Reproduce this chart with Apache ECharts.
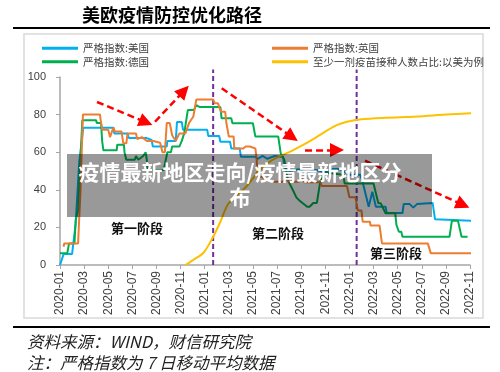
<!DOCTYPE html>
<html><head><meta charset="utf-8">
<script src="https://cdn.jsdelivr.net/npm/echarts@6/dist/echarts.min.js"></script>
<style>html,body{margin:0;padding:0;background:#fff}#c{width:500px;height:372px}</style>
</head><body><div id="c"></div>
<script>
// x value = months since 2020-01
const tickLabels = ['2020-01','2020-03','2020-05','2020-07','2020-09','2020-11','2021-01','2021-03','2021-05','2021-07','2021-09','2021-11','2022-01','2022-03','2022-05','2022-07','2022-09','2022-11'];
const yTicks = [0, 20, 40, 60, 80, 100];

const usIndex = [[0,0],[0.3,5.8],[1.0,5.8],[1.3,22],[1.6,55],[1.93,73],[4.45,73],[4.5,70],[5.6,70],[5.7,67.5],[7.2,67.5],[7.3,66.5],[7.6,66.5],[7.7,63],[8.85,63],[8.9,66],[9.6,66],[9.7,76],[10.1,76],[10.2,72],[12.2,72],[12.3,68.6],[13.2,68.6],[13.3,65.6],[14.1,65.6],[14.2,62],[14.9,62],[15.0,57.6],[16.2,57.6],[16.4,56.5],[16.8,58],[17.2,56.5],[17.8,58],[18.5,57.5],[18.6,52],[19.0,50],[19.8,51],[20.4,49],[21.2,50.5],[22.0,49.5],[22.6,51],[23.2,51],[24.0,48],[24.9,48],[25.1,44],[25.6,31],[25.9,39],[26.2,31],[27.0,31],[27.1,27.6],[28.4,27.6],[28.5,32.4],[29.0,32.4],[29.3,30.5],[29.6,32.4],[30.9,33],[31.1,24.3],[34.3,23.5]];

const ukIndex = [[0.3,9.7],[0.35,11.5],[1.5,11.5],[1.7,40],[1.9,80],[3.32,80],[3.35,78],[3.46,78],[3.5,72],[4.0,72],[4.15,68],[4.42,73],[4.56,71],[5.1,71],[5.25,64.7],[5.5,64.7],[5.6,70],[6.3,70],[6.4,67],[6.8,68],[7.2,66],[7.74,66],[7.8,65],[8.3,65],[8.4,66],[8.5,60],[8.7,60],[8.85,75.5],[9.1,75.5],[9.3,69],[9.6,66],[9.9,70],[10.4,70],[10.7,75.5],[11.06,79],[11.3,88],[12.7,88],[12.85,86],[13.1,86],[13.35,81.5],[13.7,81.5],[13.8,75.4],[14.0,68.3],[14.4,68.3],[14.45,62],[15.2,62],[15.4,63],[15.75,63],[15.8,62],[16.2,62],[16.3,56.7],[16.4,47],[16.8,47],[17.0,45],[17.7,44.3],[18.5,44.3],[18.7,46],[19.0,44.3],[19.8,44.3],[20.0,46],[20.3,44],[21.6,44],[21.7,42],[23.8,42],[24.0,36],[24.5,36],[24.7,29],[25.0,29],[25.1,23],[25.7,23],[25.75,21],[26.5,21],[26.7,11.5],[30.5,11.5],[30.75,6.2],[34.1,6.2]];

const deIndex = [[0,6.2],[0.6,6.2],[0.75,11.5],[1.2,11.5],[1.3,24],[1.5,29],[1.85,77],[3.0,77],[3.05,75.5],[3.4,75.5],[3.5,65.6],[3.6,61],[4.7,61],[4.75,64],[5.3,64],[5.35,60],[5.5,56],[6.2,56],[6.3,58],[6.5,56],[6.9,58],[7.1,60],[7.2,56],[7.25,50.5],[8.6,50.5],[8.9,60],[9.2,60],[9.3,63],[9.9,63],[10.1,66],[10.3,70],[10.6,82.4],[11.1,82.4],[11.3,85],[11.6,84],[13.3,84],[13.4,78],[14.2,78],[14.3,75.4],[16.0,75.4],[16.2,68.3],[18.1,68.3],[18.3,59.5],[18.6,56],[18.9,45],[19.3,40],[19.6,36],[19.9,34],[20.5,31],[20.7,31],[21.0,33],[21.3,33],[21.6,45],[21.8,48],[22.1,49],[23.5,48],[23.6,43.4],[26.0,43.4],[26.4,32.8],[26.6,32.8],[27.0,27.5],[27.8,27.5],[27.9,21.3],[28.1,17.7],[28.3,17.7],[28.4,15],[32.3,15],[32.5,23.6],[33.0,23.6],[33.3,15],[33.8,15]];

const vaccineUS = [[10.4,0],[11.0,2.5],[11.9,6.5],[12.7,15],[13.3,23],[13.9,32],[14.5,36],[15.5,42],[16.5,50],[17.4,55],[18.3,58],[19.3,61],[20.2,64],[21.0,67],[22.0,71],[23.0,74.5],[23.8,76.2],[25.0,77.5],[27.0,78.3],[29.6,79],[32.0,80],[34.1,80.7]];

const phaseBreaks = [12.7, 24.6];
const arrowPaths = [
  [[3.07,86.7],[7.13,75.9]],
  [[7.88,76.2],[10.28,92.6]],
  [[13.41,94.0],[19.24,68.1]],
  [[20.32,61.2],[22.97,61.2]],
  [[25.29,55.5],[33.42,32.0]]
];
const names = ['严格指数:美国','严格指数:德国','严格指数:英国','至少一剂疫苗接种人数占比:以美为例'];
const colors = ['#00B0F0','#00B050','#ED7D31','#FFC000'];
const seriesData = [usIndex, deIndex, ukIndex, vaccineUS];

const FONT = '"Liberation Sans", Arial, sans-serif';
const CJK = '"Noto Sans CJK SC", sans-serif';

const chart = echarts.init(document.getElementById('c'));

const series = seriesData.map((d, i) => ({
  type: 'line', name: names[i], data: d, symbol: 'none', clip: false,
  smooth: i === 3 ? 0.3 : false,
  lineStyle: { color: colors[i], width: 2 }, itemStyle: { color: colors[i] },
  z: i === 3 ? 3 : 2,
  animation: false
}));
series.push({
  type: 'line', name: 'arrows', data: [], symbol: 'none', silent: true, animation: false, z: 5,
  markLine: {
    silent: true, animation: false,
    symbol: ['none', 'triangle'], symbolSize: 14,
    lineStyle: { color: '#FF0000', type: [7, 4], width: 2.5 },
    itemStyle: { color: '#FF0000' },
    label: { show: false },
    emphasis: { disabled: true },
    data: arrowPaths.map(p => [
      { coord: p[0], symbol: 'none' },
      { coord: p[1], symbol: 'triangle', symbolSize: 14 }
    ])
  }
});
phaseBreaks.forEach(b => series.push({
  type: 'line', name: 'break' + b, data: [[b, 0], [b, 104]], clip: false, symbol: 'none',
  lineStyle: { color: '#7030A0', type: [5, 3], width: 2 }, silent: true, animation: false, z: 1
}));

chart.setOption({
  animation: false,
  title: {
    text: '美欧疫情防控优化路径', left: 77, top: 1,
    textStyle: { fontSize: 18, fontWeight: 'bold', color: '#000', fontFamily: CJK }
  },
  legend: [
    { data: names.slice(0, 2), left: 37, top: 38, orient: 'vertical', icon: 'rect', itemWidth: 36, itemHeight: 3, itemGap: 3,
      textStyle: { fontSize: 10.5, color: '#404040', fontFamily: CJK } },
    { data: names.slice(2, 4), left: 267, top: 38, orient: 'vertical', icon: 'rect', itemWidth: 36, itemHeight: 3, itemGap: 3,
      textStyle: { fontSize: 10.5, color: '#404040', fontFamily: CJK } }
  ],
  grid: { left: 60, right: 30, top: 77, bottom: 107 },
  xAxis: {
    type: 'value', min: 0, max: 34, interval: 2,
    axisLine: { lineStyle: { color: '#A6A6A6', width: 1.5 } },
    axisTick: { show: true, length: 4, lineStyle: { color: '#A6A6A6' } },
    splitLine: { show: false },
    axisLabel: {
      rotate: 90, margin: 6, fontSize: 12, color: '#404040', fontFamily: FONT,
      formatter: v => (Number.isInteger(v) && v % 2 === 0) ? tickLabels[v / 2] : ''
    }
  },
  yAxis: {
    type: 'value', min: yTicks[0], max: yTicks[yTicks.length - 1], interval: 20,
    axisLine: { show: true, lineStyle: { color: '#A6A6A6', width: 1.5 } },
    axisTick: { show: true, length: 4, lineStyle: { color: '#A6A6A6' } },
    splitLine: { show: false },
    axisLabel: { margin: 14, fontSize: 11, color: '#404040', fontFamily: FONT }
  },
  graphic: [
    { type: 'rect', shape: { x: 24, y: 34, width: 459, height: 284 }, style: { fill: 'none', stroke: '#D9D9D9', lineWidth: 1.5 }, z: -1 },
    { type: 'line', shape: { x1: 13, y1: 28, x2: 490, y2: 28 }, style: { stroke: '#000', lineWidth: 2 } },
    { type: 'line', shape: { x1: 13, y1: 327, x2: 490, y2: 327 }, style: { stroke: '#000', lineWidth: 2 } },
    { type: 'text', x: 27, y: 342, style: { text: '资料来源：WIND，财信研究院', fill: '#222', font: 'italic 16.5px ' + CJK, verticalAlign: 'middle' } },
    { type: 'text', x: 27, y: 363, style: { text: '注：严格指数为 7 日移动平均数据', fill: '#222', font: 'italic 16.5px ' + CJK, verticalAlign: 'middle' } },
    { type: 'text', x: 137, y: 228, style: { text: '第一阶段', fill: '#111', font: 'bold 13px ' + CJK, align: 'center', verticalAlign: 'middle' }, z: 10 },
    { type: 'text', x: 278, y: 233, style: { text: '第二阶段', fill: '#111', font: 'bold 13px ' + CJK, align: 'center', verticalAlign: 'middle' }, z: 10 },
    { type: 'text', x: 396, y: 253, style: { text: '第三阶段', fill: '#111', font: 'bold 13px ' + CJK, align: 'center', verticalAlign: 'middle' }, z: 10 },
    { type: 'rect', shape: { x: 67, y: 154, width: 365, height: 63 }, style: { fill: 'rgba(0,0,0,0.4)' }, z: 100 },
    { type: 'text', x: 240, y: 172, style: { text: '疫情最新地区走向/疫情最新地区分', fill: '#fff', font: 'bold 21px ' + CJK, align: 'center', verticalAlign: 'middle' }, z: 101 },
    { type: 'text', x: 240, y: 197, style: { text: '布', fill: '#fff', font: 'bold 21px ' + CJK, align: 'center', verticalAlign: 'middle' }, z: 101 }
  ],
  series: series
});
</script></body></html>
